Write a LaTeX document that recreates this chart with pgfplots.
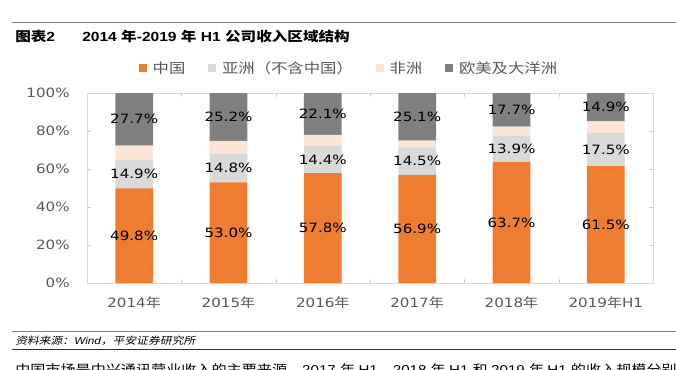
\documentclass[border=0pt]{standalone}
\usepackage{fontspec}
\usepackage{pgfplots}
\pgfplotsset{compat=1.18}
\newfontfamily\lat[FakeStretch=1.18]{DejaVu Sans}
\newfontfamily\cjk[FakeStretch=1.18]{Noto Sans CJK SC}
\newfontfamily\tl[FakeStretch=1.18]{Liberation Sans}
\newfontfamily\sci[FakeStretch=1.18,FakeSlant=0.2]{Noto Sans CJK SC}
\definecolor{cn}{HTML}{ED7D31}
\definecolor{asia}{HTML}{D9D9D9}
\definecolor{afr}{HTML}{FBE5D6}
\definecolor{eur}{HTML}{7F7F7F}
\definecolor{txt}{HTML}{595959}
\newcommand\tf{\fontsize{9.6}{11}\selectfont}
\newcommand\lf{\fontsize{10.4}{12}\selectfont}
\newcommand\Y[1]{{\lat #1}{\cjk 年}}
\begin{document}
\begin{tikzpicture}
\useasboundingbox (0,0) rectangle (507pt,-276.75pt);
% header
\draw[line width=0.8pt, color=black!50] (9pt,-17pt) -- (507pt,-17pt);
\node[anchor=base west, inner sep=0pt] at (11.25pt,-30.75pt)
  {\fontsize{9.9}{12}\selectfont\bfseries{\cjk 图表}{\tl 2}};
\node[anchor=base west, inner sep=0pt] at (61.5pt,-30.75pt)
  {\fontsize{9.9}{12}\selectfont\bfseries{\tl 2014 }{\cjk 年}{\tl -2019 }{\cjk 年}{\tl\ H1 }{\cjk 公司收入区域结构}};
\begin{axis}[
  at={(65.25pt,-212.25pt)}, anchor=south west,
  scale only axis, width=424.5pt, height=142.5pt,
  ybar stacked, bar width=28.3pt,
  xmin=-0.5, xmax=5.5, ymin=0, ymax=100,
  axis line style={draw=black!15},
  xtick={0,...,5},
  xticklabels={\Y{2014},\Y{2015},\Y{2016},\Y{2017},\Y{2018},{\Y{2019}\lat H1}},
  xtick style={draw=none},
  ytick={0,20,...,100},
  yticklabels={0\%,20\%,40\%,60\%,80\%,100\%},
  ytick style={draw=black!20},
  tick align=inside, major tick length=3pt,
  xticklabel style={font=\tf, text=txt, anchor=base, yshift=-18pt},
  yticklabel style={font=\lat\tf, text=txt, anchor=east, xshift=-9.5pt},
  legend image code/.code={\fill[#1,draw=none] (0pt,-3pt) rectangle (6pt,3pt);},
  legend style={at={(0.461,1.13)}, anchor=center, draw=none, fill=none,
    legend columns=4, font=\lf, text=txt,
    nodes={inner sep=0pt},
    /tikz/every odd column/.append style={column sep=4.5pt},
    /tikz/every even column/.append style={column sep=17pt}},
]
\addplot[fill=cn, draw=none] coordinates {(0,49.8) (1,53.0) (2,57.8) (3,56.9) (4,63.7) (5,61.5)};
\addlegendentry{\cjk 中国}
\addplot[fill=asia, draw=none] coordinates {(0,14.9) (1,14.8) (2,14.4) (3,14.5) (4,13.9) (5,17.5)};
\addlegendentry{\cjk 亚洲（不含中国）}
\addplot[fill=afr, draw=none] coordinates {(0,7.6) (1,7.0) (2,5.7) (3,3.5) (4,4.7) (5,6.1)};
\addlegendentry{\cjk 非洲}
\addplot[fill=eur, draw=none] coordinates {(0,27.7) (1,25.2) (2,22.1) (3,25.1) (4,17.7) (5,14.9)};
\addlegendentry{\cjk 欧美及大洋洲}
\end{axis}
\begin{axis}[
  at={(65.25pt,-212.25pt)}, anchor=south west,
  scale only axis, width=424.5pt, height=142.5pt,
  xmin=-0.5, xmax=5.5, ymin=0, ymax=100,
  axis line style={draw=none},
  xtick={0.5,1.5,2.5,3.5,4.5}, xticklabels={},
  ytick=\empty,
  xtick style={draw=black!20},
  tick align=inside, major tick length=3pt,
  nodes near coords={\pgfplotspointmeta},
  every node near coord/.append style={anchor=center, font=\lat\tf, text=black, inner sep=0pt},
]
\addplot[draw=none, mark=none, point meta=explicit symbolic] coordinates {
 (0,24.9) [49.8\%] (1,26.5) [53.0\%] (2,28.9) [57.8\%] (3,28.45) [56.9\%] (4,31.85) [63.7\%] (5,30.75) [61.5\%]
 (0,57.25) [14.9\%] (1,60.4) [14.8\%] (2,65.0) [14.4\%] (3,64.15) [14.5\%] (4,70.65) [13.9\%] (5,70.25) [17.5\%]
 (0,86.15) [27.7\%] (1,87.4) [25.2\%] (2,88.95) [22.1\%] (3,87.45) [25.1\%] (4,91.15) [17.7\%] (5,92.55) [14.9\%]
};
\end{axis}
% footer
\draw[line width=0.8pt, color=black!50] (9pt,-248.5pt) -- (507pt,-248.5pt);
\node[anchor=base west, inner sep=0pt] at (11.25pt,-258.5pt)
  {\fontsize{7.5}{9}\selectfont{\sci 资料来源：}{\tl\itshape Wind}{\sci ，平安证券研究所}};
\draw[line width=0.5pt, color=black!80] (9pt,-262pt) -- (507pt,-262pt);
\begin{scope}
\clip (0,0) rectangle (507pt,-276.75pt);
\node[anchor=west, inner sep=0pt] at (11.25pt,-277pt)
  {\tf{\cjk 中国市场是中兴通讯营业收入的主要来源，}{\tl 2017 }{\cjk 年 }{\tl H1}{\cjk 、}{\tl 2018 }{\cjk 年 }{\tl H1 }{\cjk 和 }{\tl 2019 }{\cjk 年 }{\tl H1 }{\cjk 的收入规模分别}};
\end{scope}
\end{tikzpicture}
\end{document}
